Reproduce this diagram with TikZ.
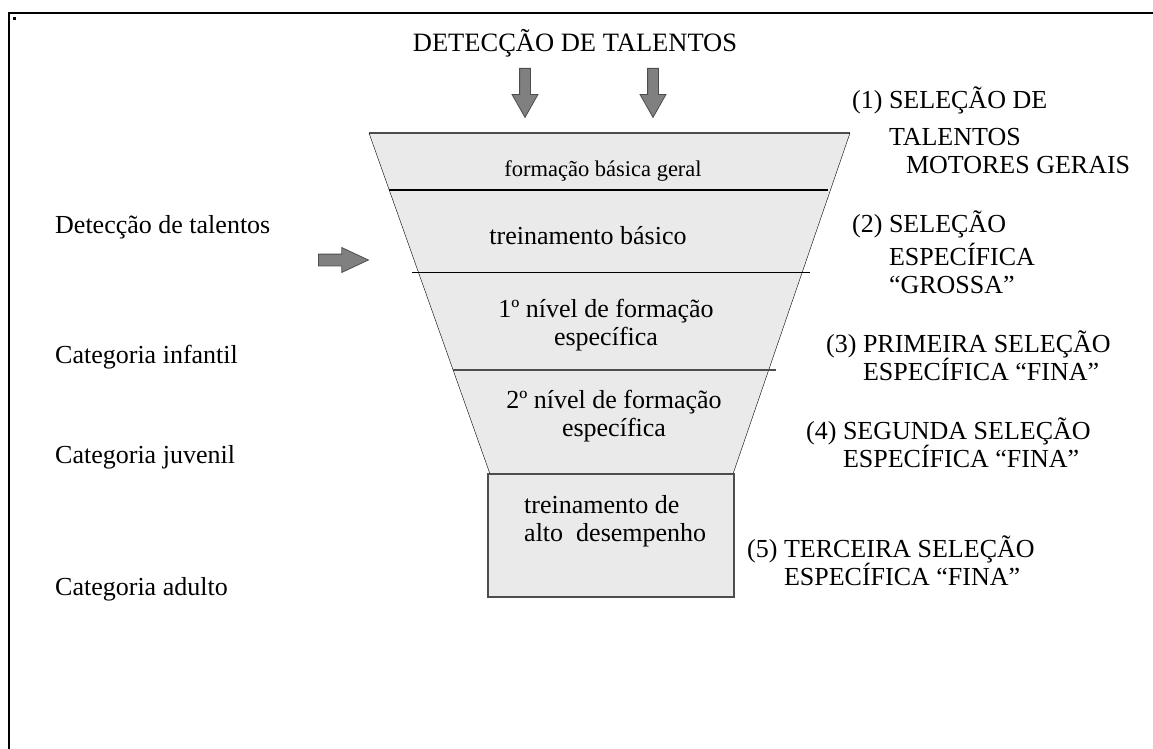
\documentclass[tikz,border=0pt]{standalone}
\usepackage{fontspec}
\setmainfont{Liberation Serif}
\usetikzlibrary{shapes.arrows}
\definecolor{funnelgray}{HTML}{EAEAEA}
\definecolor{arrowgray}{HTML}{808080}
\definecolor{edgegray}{HTML}{4D4D4D}

\begin{document}
\begin{tikzpicture}[x=1pt, y=-1pt,
  every node/.style = {inner sep=0pt, align=left,
    font=\fontsize{26}{28}\selectfont},
  bigarrow/.style = {single arrow, draw=edgegray, fill=arrowgray,
    inner sep=5pt, minimum width=25pt, single arrow head extend=7.5pt,
    single arrow tip angle=59, line width=0.8pt, anchor=tail}]
  \useasboundingbox (0,0) rectangle (1153,749);
  % page frame
  \draw[line width=2pt] (9,749) -- (9,13) -- (1153,13);
  \fill (13,17) rectangle (16,20);
  % funnel
  \coordinate (tl) at (369,133);
  \coordinate (tr) at (850,133);
  \coordinate (bl) at (490,474);
  \coordinate (br) at (733,474);
  \fill[funnelgray] (tl) -- (tr) -- (br) -- (bl) -- cycle;
  \draw[edgegray, line width=1.5pt] (tl) -- (tr);
  \draw (tl) -- (bl);
  \draw (tr) -- (br);
  \draw[line width=2.5pt] (389,190) -- (828,190);
  \draw (412,272) -- (810,272);
  \draw[edgegray, line width=1.5pt] (453,370) -- (776,370);
  \draw[edgegray, fill=funnelgray, line width=1.5pt] (488,474) rectangle (734,597);
  % arrows
  \node[bigarrow, minimum height=49pt, rotate=-90] (detA) at (525,68) {};
  \node[bigarrow, minimum height=49pt, rotate=-90] (detB) at (653,68) {};
  \node[bigarrow, minimum height=50pt, minimum width=24pt, inner sep=5.5pt,
    single arrow head extend=6.5pt, single arrow tip angle=50] (detIn) at (318,260) {};
  % title
  \node[anchor=base, font=\fontsize{26.5}{28}\selectfont] (title) at (575,52) {DETECÇÃO DE TALENTOS};
  % funnel texts
  \node[anchor=base, font=\fontsize{22.5}{26}\selectfont] (geral) at (603,176) {formação básica geral};
  \node[anchor=base] (basico) at (588,244) {treinamento básico};
  \node[anchor=base, align=center] (nivelA) at (606,345) {1º nível de formação\\específica};
  \node[anchor=base, align=center] (nivelB) at (614,436) {2º nível de formação\\específica};
  \node[anchor=base west] (alto) at (524,541) {treinamento de\\alto\ \ desempenho};
  % left column
  \node[anchor=base west] (detec) at (55,233) {Detecção de talentos};
  \node[anchor=base west] (infantil) at (55,363) {Categoria infantil};
  \node[anchor=base west] (juvenil) at (55,463) {Categoria juvenil};
  \node[anchor=base west] (adulto) at (55,595) {Categoria adulto};
  % right column
  \node[anchor=base west] (selA) at (852,173)
    {(1) SELEÇÃO DE\\[9pt]\phantom{(1)~}TALENTOS\\\phantom{(1)~}\hspace*{17pt}MOTORES GERAIS};
  \node[anchor=base west] (selB) at (852,293)
    {(2) SELEÇÃO\\[5pt]\phantom{(2)~}ESPECÍFICA\\\phantom{(2)~}“GROSSA”};
  \node[anchor=base west] (selC) at (826,380)
    {(3) PRIMEIRA SELEÇÃO\\\phantom{(3)~}ESPECÍFICA “FINA”};
  \node[anchor=base west] (selD) at (806,467)
    {(4) SEGUNDA SELEÇÃO\\\phantom{(4)~}ESPECÍFICA “FINA”};
  \node[anchor=base west] (selE) at (747,585)
    {(5) TERCEIRA SELEÇÃO\\\phantom{(5)~}ESPECÍFICA “FINA”};
\end{tikzpicture}
\end{document}
